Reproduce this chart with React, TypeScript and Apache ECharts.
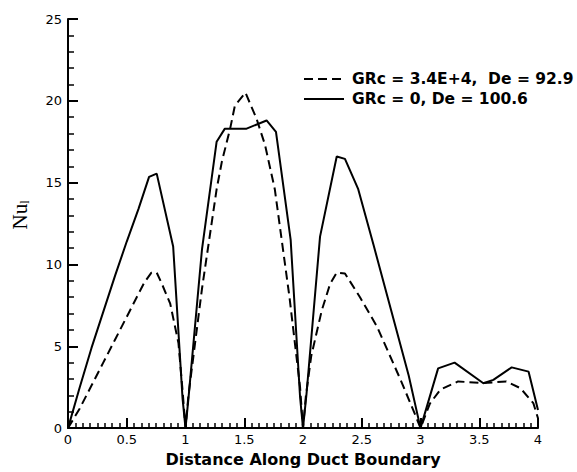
import React, { useEffect, useRef } from "react";
import * as echarts from "echarts";

// GRc = 3.4E+4, De = 92.9 (dashed)
const xDashed = [0, 0.1, 0.2, 0.3, 0.4, 0.5, 0.585, 0.65, 0.71, 0.755, 0.8, 0.87, 0.94, 0.975, 1.0,
  1.025, 1.14, 1.265, 1.31, 1.38, 1.42, 1.51, 1.605, 1.677, 1.76, 1.885, 1.975, 2.0,
  2.025, 2.07, 2.16, 2.23, 2.287, 2.357, 2.485, 2.63, 2.83, 2.95, 3.0,
  3.08, 3.17, 3.32, 3.535, 3.73, 3.85, 3.96, 4.0];
const yDashed = [0, 1.2, 2.6, 4.0, 5.4, 6.8, 8.0, 8.9, 9.5, 9.5, 8.8, 7.6, 5.2, 2.3, 0,
  2.0, 8.5, 14.6, 16.3, 18.3, 19.7, 20.5, 18.9, 17.3, 14.6, 8.0, 2.5, 0,
  2.0, 4.4, 7.2, 8.8, 9.5, 9.45, 8.0, 6.2, 2.96, 0.9, 0,
  1.5, 2.36, 2.85, 2.75, 2.85, 2.44, 1.53, 0.6];

// GRc = 0, De = 100.6 (solid)
const xSolid = [0, 0.1, 0.2, 0.3, 0.4, 0.5, 0.6, 0.69, 0.755, 0.895, 0.975, 1.0,
  1.025, 1.14, 1.265, 1.335, 1.52, 1.69, 1.77, 1.895, 1.975, 2.0,
  2.03, 2.145, 2.287, 2.357, 2.47, 2.6, 2.75, 2.9, 3.0,
  3.15, 3.29, 3.535, 3.62, 3.776, 3.92, 4.0];
const ySolid = [0, 2.5, 4.9, 7.1, 9.3, 11.4, 13.4, 15.35, 15.55, 11.1, 1.8, 0,
  1.8, 10.9, 17.5, 18.3, 18.3, 18.8, 18.1, 11.5, 1.9, 0,
  2.1, 11.7, 16.6, 16.45, 14.6, 11.2, 7.2, 3.2, 0,
  3.65, 4.0, 2.74, 2.95, 3.71, 3.45, 1.1];

const seriesNames = ["GRc = 3.4E+4,  De = 92.9", "GRc = 0, De = 100.6"];
const xTitle = "Distance Along Duct Boundary";

const zip = (xs: number[], ys: number[]) => xs.map((x, i) => [x, ys[i]]);

export default function App() {
  const ref = useRef<HTMLDivElement>(null);
  useEffect(() => {
    if (!ref.current) return;
    const chart = echarts.init(ref.current, null, { renderer: "svg" });
    const sans = "DejaVu Sans";
    chart.setOption({
      animation: false,
      backgroundColor: "#fff",
      grid: { left: 68, right: 39, top: 19, bottom: 40, containLabel: false },
      legend: {
        orient: "vertical",
        left: 298,
        top: 66,
        itemWidth: 40,
        itemHeight: 16,
        itemGap: 4,
        data: seriesNames,
        itemStyle: { opacity: 0, color: "rgba(0,0,0,0)", borderWidth: 0 },
        textStyle: { fontFamily: sans, fontWeight: "bold", fontSize: 15.5, color: "#000", lineHeight: 16, padding: [0, 0, 0, 3] },
      },
      xAxis: {
        type: "value",
        min: 0,
        max: 4,
        interval: 0.5,
        name: xTitle,
        nameLocation: "middle",
        nameGap: 18,
        nameTextStyle: { fontFamily: sans, fontWeight: "bold", fontSize: 16, color: "#000" },
        axisLine: { show: true, onZero: false, lineStyle: { color: "#000", width: 2 } },
        axisTick: { show: true, inside: true, length: 10, lineStyle: { color: "#000", width: 2 } },
        minorTick: { show: true, splitNumber: 8, length: 5, lineStyle: { color: "#000", width: 1.5 } },
        axisLabel: { fontFamily: sans, fontSize: 13, color: "#000", margin: 5 },
        splitLine: { show: false },
        minorSplitLine: { show: false },
      },
      yAxis: {
        type: "value",
        min: 0,
        max: 25,
        interval: 5,
        axisLine: { show: true, onZero: false, lineStyle: { color: "#000", width: 2 } },
        axisTick: { show: true, inside: true, length: 10, lineStyle: { color: "#000", width: 2 } },
        minorTick: { show: true, splitNumber: 5, length: 6, lineStyle: { color: "#000", width: 1.5 } },
        axisLabel: { fontFamily: sans, fontSize: 13, color: "#000", margin: 6 },
        splitLine: { show: false },
        minorSplitLine: { show: false },
      },
      graphic: [
        {
          type: "text",
          x: 20,
          y: 215,
          rotation: Math.PI / 2,
          style: {
            text: "{a|Nu}{b|l}",
            rich: {
              a: { fontFamily: "Liberation Serif", fontSize: 21, fill: "#000" },
              b: { fontFamily: "Liberation Serif", fontSize: 12, fill: "#000", verticalAlign: "bottom" },
            },
            align: "center",
            verticalAlign: "middle",
          },
        },
      ],
      series: [
        {
          name: seriesNames[0],
          type: "line",
          data: zip(xDashed, yDashed),
          symbol: "none",
          lineStyle: { color: "#000", width: 2, type: [9, 5] },
          itemStyle: { color: "#000" },
        },
        {
          name: seriesNames[1],
          type: "line",
          data: zip(xSolid, ySolid),
          symbol: "none",
          lineStyle: { color: "#000", width: 2, type: "solid" },
          itemStyle: { color: "#000" },
        },
      ],
    });
    return () => chart.dispose();
  }, []);
  return <div ref={ref} style={{ position: "fixed", left: 0, top: 0, width: 577, height: 472 }} />;
}
